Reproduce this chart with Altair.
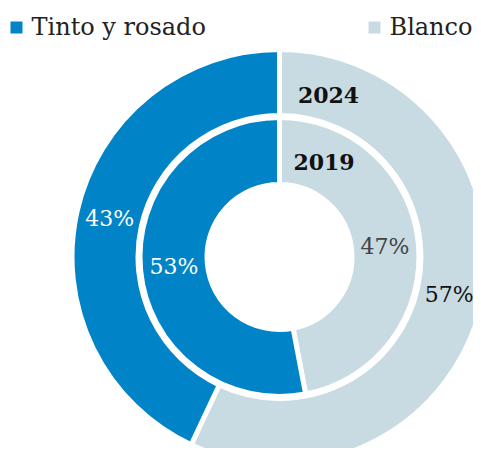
import altair as alt
import pandas as pd

anio = ["2024", "2024", "2019", "2019"]
tipo = ["Blanco", "Tinto y rosado", "Blanco", "Tinto y rosado"]
pct = [57, 43, 47, 53]
orden = [1, 2, 1, 2]
label_color = ["#111111", "#ffffff", "#444444", "#ffffff"]

categorias = ["Tinto y rosado", "Blanco"]
colores = ["#0084C7", "#C8DAE2"]

df = pd.DataFrame({
    "anio": anio,
    "tipo": tipo,
    "pct": pct,
    "orden": orden,
    "lcolor": label_color,
})
df["etiqueta"] = df["pct"].astype(str) + "%"

CX, CY = 271.5, 249
FONT = "DejaVu Serif"

base = alt.Chart(df).encode(
    theta=alt.Theta("pct:Q", stack=True),
    order=alt.Order("orden:Q"),
)

color = alt.Color(
    "tipo:N",
    scale=alt.Scale(domain=categorias, range=colores),
    legend=alt.Legend(
        title=None,
        orient="none",
        legendX=-3.5,
        legendY=7.5,
        direction="horizontal",
        symbolType="square",
        symbolSize=144,
        symbolStrokeWidth=0,
        labelFont=FONT,
        labelFontSize=24,
        labelColor="#222222",
        labelOffset=3,
        columnPadding=156,
        labelLimit=400,
    ),
)

outer = base.transform_filter(alt.datum.anio == "2024").mark_arc(
    radius=207.5, radius2=141.5, stroke="white", strokeWidth=5, x=CX, y=CY
).encode(color=color)

inner = base.transform_filter(alt.datum.anio == "2019").mark_arc(
    radius=139.5, radius2=72.5, stroke="white", strokeWidth=5, x=CX, y=CY
).encode(color=color)

outer_lbl = base.transform_filter(alt.datum.anio == "2024").mark_text(
    radius=174, x=CX, y=CY, font=FONT, fontSize=22, align="center", baseline="middle"
).encode(text="etiqueta:N", color=alt.Color("lcolor:N", scale=None))

inner_lbl = base.transform_filter(alt.datum.anio == "2019").mark_text(
    radius=106, x=CX, y=CY, font=FONT, fontSize=22, align="center", baseline="middle"
).encode(text="etiqueta:N", color=alt.Color("lcolor:N", scale=None))

years = pd.DataFrame({"anio": ["2024", "2019"], "px": [320.5, 316], "py": [88, 155.3]})
year_lbl = alt.Chart(years).mark_text(
    font=FONT, fontSize=22, fontWeight="bold", color="#111111", align="center", baseline="middle"
).encode(
    x=alt.X("px:Q", scale=None),
    y=alt.Y("py:Q", scale=None),
    text="anio:N",
)

chart = alt.layer(outer, inner, outer_lbl, inner_lbl, year_lbl).properties(
    width=465, height=440, autosize=alt.AutoSizeParams(type="none"), padding=0
).configure_view(stroke=None)

chart.save("out.html", embed_options={"renderer": "svg", "actions": False})
